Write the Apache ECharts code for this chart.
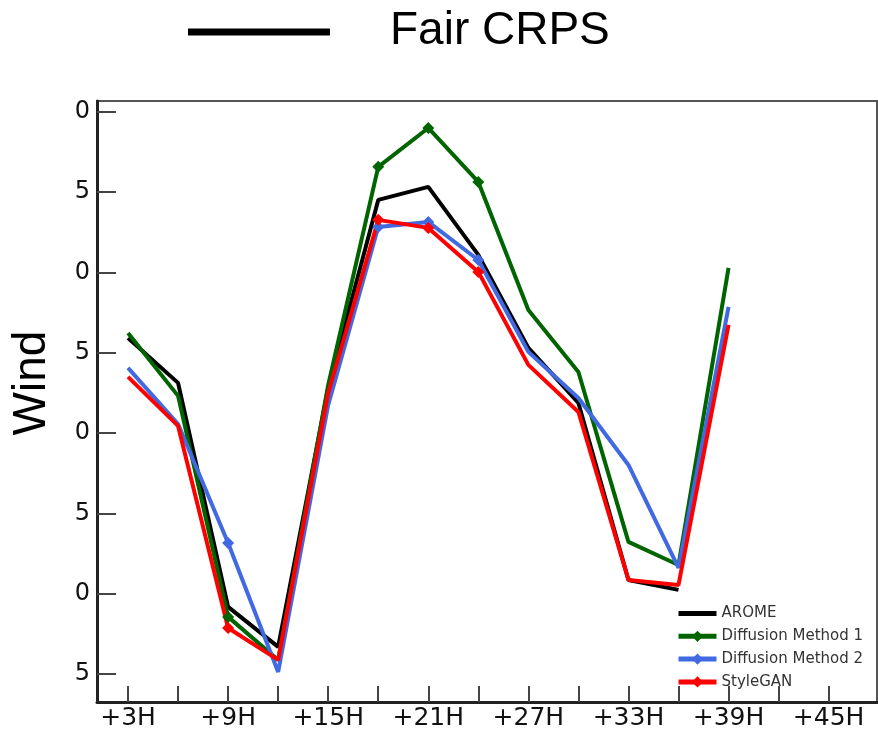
<!DOCTYPE html>
<html>
<head>
<meta charset="utf-8">
<title>Fair CRPS - Wind</title>
<script src="https://cdn.jsdelivr.net/npm/echarts@6/dist/echarts.min.js"></script>
<style>
    html, body { margin: 0; padding: 0; background: #fff; }
    #chart { width: 878px; height: 735px; }
</style>
</head>
<body>
<div id="chart"></div>
<script>
// lead times (hours)
var hours = [3, 6, 9, 12, 15, 18, 21, 24, 27, 30, 33, 36, 39];
var xTicks = [3, 6, 9, 12, 15, 18, 21, 24, 27, 30, 33, 36, 39, 42, 45];
var xLabels = [3, 9, 15, 21, 27, 33, 39, 45];
var yTicks = [5, 10, 15, 20, 25, 30, 35, 40];

var arome = [25.93, 23.13, 9.18, 6.69, 22.81, 34.52, 35.33, 31.10, 25.31, 21.88, 10.86, 10.24, null];
var diff1 = [26.24, 22.32, 8.56, 5.88, 23.00, 36.58, 39.00, 35.64, 27.67, 23.81, 13.23, 11.79, 30.29];
var diff2 = [24.06, 20.57, 13.16, 5.13, 21.76, 32.84, 33.15, 30.78, 25.06, 22.19, 18.02, 11.61, 27.86];
var stylegan = [23.50, 20.45, 7.87, 5.88, 22.50, 33.28, 32.78, 30.04, 24.25, 21.32, 10.86, 10.55, 26.74];

// points that carry a marker (index into hours)
var markAt = [2, 5, 6, 7];

function toData(values, marked) {
    var out = [];
    for (var i = 0; i < hours.length; i++) {
        if (values[i] === null) continue;
        if (marked && markAt.indexOf(i) >= 0) {
            out.push({ value: [hours[i], values[i]] });
        } else {
            out.push({ value: [hours[i], values[i]], symbol: 'none' });
        }
    }
    return out;
}

function lineSeries(name, values, color, marked) {
    return {
        name: name,
        type: 'line',
        data: toData(values, marked),
        symbol: marked ? 'diamond' : 'none',
        symbolSize: 12,
        showSymbol: true,
        lineStyle: { color: color, width: 4 },
        itemStyle: { color: color },
        emphasis: { disabled: true },
        z: 3
    };
}

var chart = echarts.init(document.getElementById('chart'));
chart.setOption({
    animation: false,
    textStyle: { fontFamily: 'DejaVu Sans' },
    grid: {
        left: 97, right: 1, top: 101, bottom: 33,
        show: true, borderColor: '#555', borderWidth: 2
    },
    legend: {
        left: 671, top: 601,
        orient: 'vertical',
        itemWidth: 38, itemHeight: 14, itemGap: 7.8,
        lineStyle: { width: 5 },
        textStyle: { fontSize: 15, color: '#333', fontFamily: 'DejaVu Sans' },
        data: [
            { name: 'AROME', itemStyle: { opacity: 0 } },
            'Diffusion Method 1', 'Diffusion Method 2', 'StyleGAN'
        ]
    },
    xAxis: {
        type: 'value',
        min: 1.14, max: 47.9,
        axisLine: { lineStyle: { color: '#222', width: 3 } },
        axisTick: { inside: true, length: 16, customValues: xTicks, lineStyle: { color: '#444', width: 2 } },
        axisLabel: {
            customValues: xLabels, formatter: '+{value}H',
            fontSize: 25, color: '#111', margin: 4
        },
        splitLine: { show: false }
    },
    yAxis: {
        type: 'value',
        min: 3.26, max: 40.68,
        axisLine: { show: true, lineStyle: { color: '#222', width: 3 } },
        axisTick: { show: true, inside: true, length: 19, customValues: yTicks, lineStyle: { color: '#444', width: 2 } },
        axisLabel: {
            customValues: yTicks,
            formatter: function (v) { return String(Math.round(v) % 10); },
            fontSize: 24, color: '#111', margin: 7
        },
        splitLine: { show: false }
    },
    graphic: [
        { type: 'line', shape: { x1: 188, y1: 32, x2: 330, y2: 32 }, style: { stroke: '#000', lineWidth: 7 } },
        { type: 'text', x: 390, y: 31, style: { text: 'Fair CRPS', font: '46px "Liberation Sans"', fill: '#000', align: 'left', verticalAlign: 'middle' } },
        { type: 'text', x: 32, y: 383, rotation: Math.PI / 2, style: { text: 'Wind', font: '46px "Liberation Sans"', fill: '#000', align: 'center', verticalAlign: 'middle' } }
    ],
    series: [
        lineSeries('AROME', arome, '#000000', false),
        lineSeries('Diffusion Method 1', diff1, '#006400', true),
        lineSeries('Diffusion Method 2', diff2, '#4169E1', true),
        lineSeries('StyleGAN', stylegan, '#FF0000', true)
    ]
});
</script>
</body>
</html>
